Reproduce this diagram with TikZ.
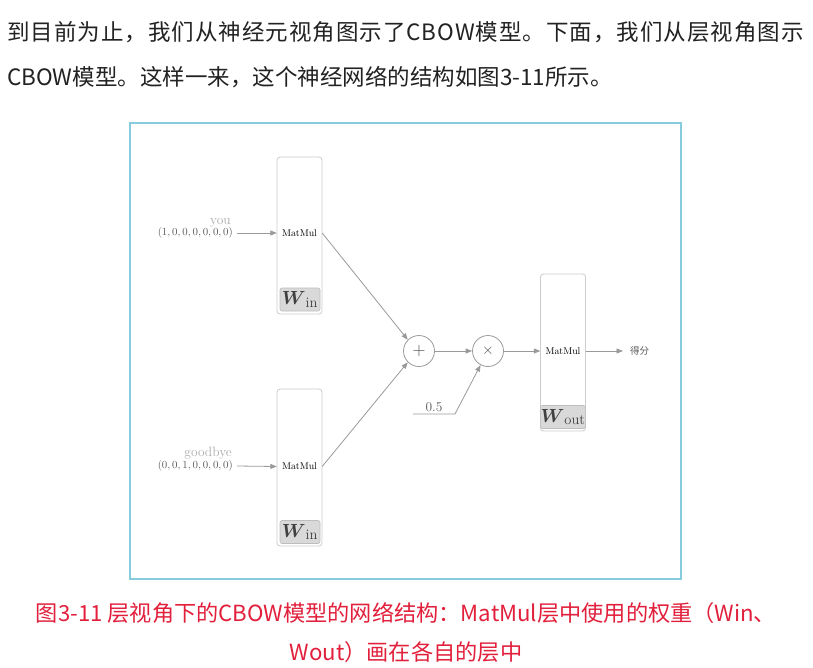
\RequirePackage{fix-cm}
\documentclass[tikz,border=0pt]{standalone}
\usepackage{amsmath}
\usepackage{fontspec}
\usetikzlibrary{arrows.meta}
\newfontfamily\cjk{Noto Sans CJK SC}
\newfontfamily\cjkwide[LetterSpace=4.4]{Noto Sans CJK SC}
\definecolor{txt}{HTML}{222222}
\definecolor{framec}{HTML}{86CCDD}
\definecolor{capc}{HTML}{E2203C}
\definecolor{ln}{HTML}{9A9A9A}
\definecolor{boxln}{HTML}{CCCCCC}
\definecolor{lblfill}{HTML}{D9D9D9}
\definecolor{lblln}{HTML}{BDBDBD}
\definecolor{lightg}{HTML}{AAAAAA}
\definecolor{midg}{HTML}{5A5A5A}
\newcommand\wlab[1]{\fontsize{19}{19}\selectfont$\boldsymbol{W}_{\mbox{\fontsize{14.5}{14.5}\selectfont #1}}$}
\begin{document}
\begin{tikzpicture}[x=1pt,y=-1pt,
 layer/.style={draw=boxln, line width=0.8pt, rounded corners=3pt, minimum width=45pt, minimum height=157pt, inner sep=0},
 wlabel/.style={draw=lblln, fill=lblfill, line width=0.6pt, rounded corners=2pt, minimum width=40pt, minimum height=23pt, inner sep=0, text=black!75},
 mm/.style={font=\fontsize{9.8}{10}\selectfont, text=black, minimum width=45pt, inner sep=0},
 op/.style={circle, draw=ln, line width=0.8pt, minimum size=31pt, inner sep=0, text=black!70},
 arr/.style={draw=ln, line width=0.8pt, -{Triangle[length=6.5pt,width=5pt]}},
 tup/.style={font=\fontsize{10.8}{12}\selectfont, text=midg, inner sep=0, anchor=east},
 word/.style={font=\fontsize{13.5}{14}\selectfont, text=lightg, inner sep=0, anchor=base east},
 para/.style={anchor=base west, inner sep=0, text=txt},
 captxt/.style={anchor=base, inner sep=0, text=capc, font=\cjk\fontsize{22.2}{22}\selectfont},
]
\useasboundingbox (0,0) rectangle (813,667);
\fill[white] (0,0) rectangle (813,667);
% text above
\node[para, font=\cjkwide\fontsize{22.5}{22}\selectfont] (l1) at (7,40.5) {到目前为止，我们从神经元视角图示了CBOW模型。下面，我们从层视角图示};
\node[para, font=\cjk\fontsize{22.5}{22}\selectfont] (l2) at (7,85.5) {CBOW模型。这样一来，这个神经网络的结构如图3-11所示。};
% frame
\draw[framec, line width=1.4pt] (130,123) rectangle (681,579);
% layers
\node[layer] (L1) at (299.5,235.5) {};
\node[mm] (m1) at (299.5,233) {MatMul};
\node[wlabel] (w1) at (300,299.5) {\wlab{in}};
\node[layer] (L2) at (299.5,467.5) {};
\node[mm] (m2) at (299.5,466.5) {MatMul};
\node[wlabel] (w2) at (300,532) {\wlab{in}};
\node[layer] (L3) at (563,352.5) {};
\node[mm] (m3) at (563,351) {MatMul};
\node[wlabel] (w3) at (563,417) {\wlab{out}};
% operators
\node[op, font=\fontsize{18}{18}\selectfont] (plus) at (419,351) {$+$};
\node[op, font=\fontsize{15}{15}\selectfont] (times) at (488,351) {$\times$};
% inputs
\node[tup] (t1) at (233,233) {$(1,0,0,0,0,0,0)$};
\node[word] (you) at (231,224) {you};
\node[tup] (t2) at (233,466) {$(0,0,1,0,0,0,0)$};
\node[word] (gb) at (232,456) {goodbye};
% connectors
\draw[arr] ([xshift=4pt]t1.east) -- (m1.west);
\draw[arr] ([xshift=4pt]t2.east) -- (m2.west);
\draw[arr] (m1.east) -- (plus.north west);
\draw[arr] (m2.east) -- (plus.south west);
\draw[arr] (plus) -- (times);
\coordinate (h0) at (413,414);
\coordinate (h1) at (455,414);
\draw[arr] (h0) -- (h1) -- (times.242);
\node[font=\fontsize{13.5}{14}\selectfont, text=midg, anchor=base, inner sep=0] (half) at (434,411) {0.5};
\draw[arr] (times) -- (m3.west);
\node[anchor=west, inner sep=0, font=\cjk\fontsize{9.5}{10}\selectfont, text=midg] (score) at (630,351) {得分};
\draw[arr] (m3.east) -- ([xshift=-7pt]score.west);
% caption
\node[captxt] (c1) at (406,621) {图3-11 层视角下的CBOW模型的网络结构：MatMul层中使用的权重（Win、};
\node[captxt] (c2) at (406,660) {Wout）画在各自的层中};
\end{tikzpicture}
\end{document}
